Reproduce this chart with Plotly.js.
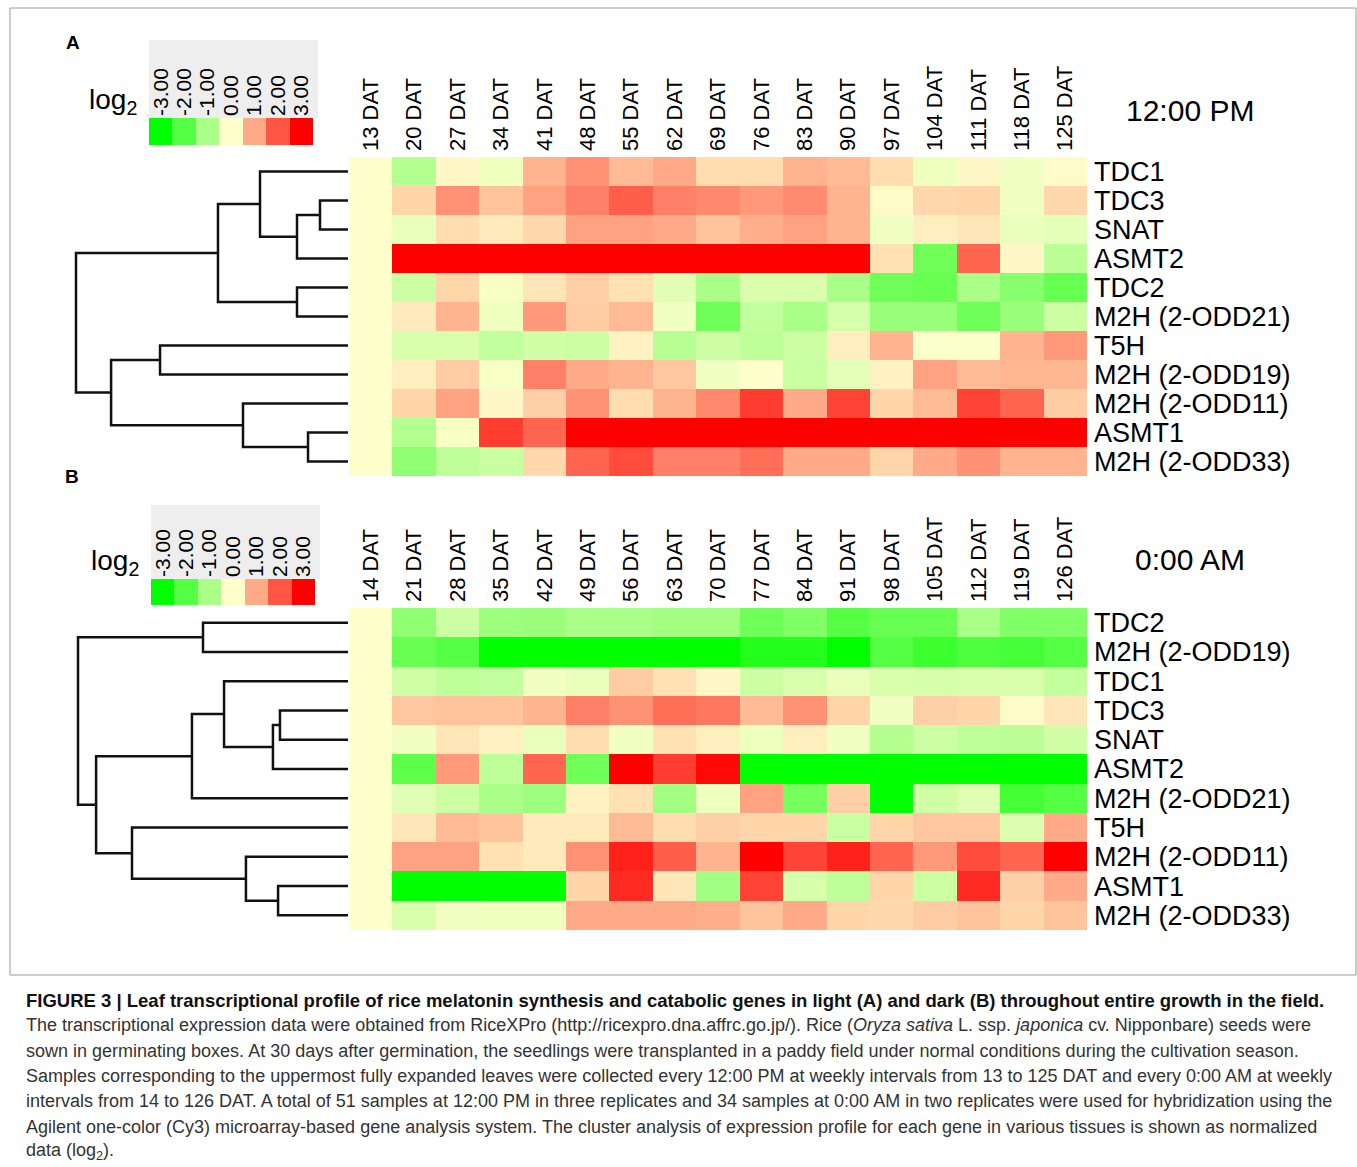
<!DOCTYPE html>
<html>
<head>
<meta charset="utf-8">
<script src="https://cdn.plot.ly/plotly-3.0.1.min.js"></script>
<style>html,body{margin:0;padding:0;background:#fff;}#chart{width:1357px;height:1167px;}</style>
</head>
<body>
<div id="chart"></div>
<script>
// ---------- data ----------
const colsA = ["13 DAT","20 DAT","27 DAT","34 DAT","41 DAT","48 DAT","55 DAT","62 DAT","69 DAT","76 DAT","83 DAT","90 DAT","97 DAT","104 DAT","111 DAT","118 DAT","125 DAT"];
const genesA = ["TDC1","TDC3","SNAT","ASMT2","TDC2","M2H (2-ODD21)","T5H","M2H (2-ODD19)","M2H (2-ODD11)","ASMT1","M2H (2-ODD33)"];
const zA = [
  [0,-0.9,0.1,-0.2,0.9,1.3,0.8,1.0,0.4,0.4,0.9,0.8,0.4,-0.2,0.1,-0.15,0.05],
  [0,0.5,1.3,0.7,1.1,1.5,1.9,1.5,1.4,1.2,1.35,0.9,0.05,0.45,0.5,-0.15,0.45],
  [0,-0.25,0.4,0.25,0.45,1.1,1.1,1.0,0.7,0.95,1.1,0.9,-0.15,0.2,0.3,-0.25,-0.3],
  [0,3,3,3,3,3,3,3,3,3,3,3,0.35,-1.7,1.8,0.1,-0.8],
  [0,-0.6,0.5,-0.1,0.3,0.55,0.35,-0.35,-1.0,-0.45,-0.45,-1.0,-1.7,-1.8,-1.0,-1.4,-1.8],
  [0,0.25,0.9,-0.2,1.2,0.6,0.8,-0.15,-1.7,-0.7,-1.0,-0.5,-1.2,-1.2,-1.7,-1.2,-0.6],
  [0,-0.45,-0.45,-0.7,-0.55,-0.6,0.15,-0.85,-0.6,-0.75,-0.6,0.2,0.9,-0.05,-0.05,0.9,1.2],
  [0,0.2,0.6,-0.1,1.5,1.0,0.9,0.65,-0.15,0.0,-0.65,-0.3,0.15,1.1,0.8,0.85,0.85],
  [0,0.5,1.1,0.1,0.55,1.3,0.4,0.9,1.4,2.3,1.0,2.2,0.5,0.8,2.2,1.8,0.6],
  [0,-0.9,-0.1,2.3,1.8,3,3,3,3,3,3,3,3,3,3,3,3],
  [0,-1.3,-0.75,-0.65,0.45,1.8,2.1,1.5,1.5,1.7,1.0,1.0,0.5,1.0,1.3,0.9,0.9]
];
// dendrogram A: merges of leaves (0..10) / earlier nodes (11..), with merge height
const dendA_left   = [1, 11, 0, 4, 13, 6, 9, 8, 16, 15];
const dendA_right  = [2, 3, 12, 5, 14, 7, 10, 17, 18, 19];
const dendA_height = [0.103, 0.1875, 0.3235, 0.1875, 0.478, 0.691, 0.147, 0.386, 0.871, 1.0];

const colsB = ["14 DAT","21 DAT","28 DAT","35 DAT","42 DAT","49 DAT","56 DAT","63 DAT","70 DAT","77 DAT","84 DAT","91 DAT","98 DAT","105 DAT","112 DAT","119 DAT","126 DAT"];
const genesB = ["TDC2","M2H (2-ODD19)","TDC1","TDC3","SNAT","ASMT2","M2H (2-ODD21)","T5H","M2H (2-ODD11)","ASMT1","M2H (2-ODD33)"];
const zB = [
  [0,-1.3,-0.6,-1.15,-1.2,-1.0,-1.0,-1.1,-1.1,-1.7,-1.5,-2.0,-1.8,-1.8,-1.0,-1.5,-1.5],
  [0,-1.8,-2.0,-3,-3,-3,-3,-3,-3,-2.6,-2.6,-3,-2.0,-2.3,-2.1,-2.2,-2.0],
  [0,-0.55,-0.75,-0.7,-0.15,-0.25,0.6,0.35,0.1,-0.6,-0.45,-0.25,-0.45,-0.5,-0.45,-0.45,-0.7],
  [0,0.65,0.7,0.7,0.9,1.5,1.3,1.7,1.6,0.8,1.3,0.5,-0.15,0.55,0.5,0.05,0.3],
  [0,-0.15,0.3,0.15,-0.25,0.4,-0.15,0.35,0.2,-0.2,0.2,-0.15,-0.9,-0.6,-0.75,-0.8,-0.55],
  [0,-1.9,1.2,-0.75,1.8,-1.7,3,2.3,2.9,-3,-3,-3,-3,-3,-3,-3,-3],
  [0,-0.35,-0.6,-1.0,-1.15,0.15,0.35,-1.1,-0.2,1.1,-1.6,0.55,-3,-0.55,-0.35,-2.2,-2.0],
  [0,0.3,0.8,0.7,0.25,0.25,0.8,0.4,0.55,0.5,0.5,-0.65,0.5,0.65,0.65,-0.4,1.0],
  [0,1.1,1.1,0.35,0.25,1.3,2.6,1.9,0.9,3,2.2,2.6,1.8,1.2,2.1,1.8,3],
  [0,-3,-3,-3,-3,0.5,2.5,0.3,-1.1,2.2,-0.5,-0.75,0.5,-0.6,2.5,0.55,1.0],
  [0,-0.45,-0.15,-0.2,-0.2,1.0,1.0,1.0,0.95,0.7,1.0,0.5,0.45,0.6,0.7,0.5,0.7]
];
const dendB_left   = [0, 3, 12, 2, 14, 9, 8, 7, 15, 11];
const dendB_right  = [1, 4, 5, 13, 6, 10, 16, 17, 18, 19];
const dendB_height = [0.537, 0.252, 0.278, 0.459, 0.578, 0.259, 0.378, 0.8, 0.933, 1.0];

const legendVals = [-3,-2,-1,0,1,2,3];
const legendLabels = ["-3.00","-2.00","-1.00","0.00","1.00","2.00","3.00"];

const caption = [
  "FIGURE 3 | Leaf transcriptional profile of rice melatonin synthesis and catabolic genes in light (A) and dark (B) throughout entire growth in the field.",
  "The transcriptional expression data were obtained from RiceXPro (http://ricexpro.dna.affrc.go.jp/). Rice (<i>Oryza sativa</i> L. ssp. <i>japonica</i> cv. Nipponbare) seeds were",
  "sown in germinating boxes. At 30 days after germination, the seedlings were transplanted in a paddy field under normal conditions during the cultivation season.",
  "Samples corresponding to the uppermost fully expanded leaves were collected every 12:00 PM at weekly intervals from 13 to 125 DAT and every 0:00 AM at weekly",
  "intervals from 14 to 126 DAT. A total of 51 samples at 12:00 PM in three replicates and 34 samples at 0:00 AM in two replicates were used for hybridization using the",
  "Agilent one-color (Cy3) microarray-based gene analysis system. The cluster analysis of expression profile for each gene in various tissues is shown as normalized",
  "data (log<sub>2</sub>)."
];

// ---------- helpers ----------
const W = 1357, H = 1167;
const fx = p => p / W;
const fy = p => 1 - p / H;
const FONT = "Liberation Sans, Arial, sans-serif";
const cscale = [[0, "#00ff00"], [0.5, "#ffffcc"], [1, "#ff0000"]];

function dendroPath(left, right, height, nLeaves) {
  const pos = [], hgt = [];
  for (let i = 0; i < nLeaves; i++) { pos[i] = i; hgt[i] = 0; }
  const xs = [], ys = [];
  for (let k = 0; k < left.length; k++) {
    const a = left[k], b = right[k], h = height[k];
    xs.push(hgt[a], h, h, hgt[b], null);
    ys.push(pos[a], pos[a], pos[b], pos[b], null);
    pos[nLeaves + k] = (pos[a] + pos[b]) / 2;
    hgt[nLeaves + k] = h;
  }
  return { x: xs, y: ys };
}
const dA = dendroPath(dendA_left, dendA_right, dendA_height, genesA.length);
const dB = dendroPath(dendB_left, dendB_right, dendB_height, genesB.length);

// ---------- traces ----------
const traces = [
  { type: "heatmap", x: colsA, y: genesA, z: zA, xaxis: "x", yaxis: "y",
    colorscale: cscale, zmin: -3, zmax: 3, showscale: false },
  { type: "scatter", mode: "lines", x: dA.x, y: dA.y, xaxis: "x2", yaxis: "y2",
    line: { color: "#111", width: 2.5 }, hoverinfo: "skip", showlegend: false },
  { type: "heatmap", x: legendLabels, y: ["a"], z: [legendVals], xaxis: "x3", yaxis: "y3",
    colorscale: cscale, zmin: -3, zmax: 3, showscale: false },
  { type: "heatmap", x: colsB, y: genesB, z: zB, xaxis: "x4", yaxis: "y4",
    colorscale: cscale, zmin: -3, zmax: 3, showscale: false },
  { type: "scatter", mode: "lines", x: dB.x, y: dB.y, xaxis: "x5", yaxis: "y5",
    line: { color: "#111", width: 2.5 }, hoverinfo: "skip", showlegend: false },
  { type: "heatmap", x: legendLabels, y: ["a"], z: [legendVals], xaxis: "x6", yaxis: "y6",
    colorscale: cscale, zmin: -3, zmax: 3, showscale: false }
];

const hx = [fx(349), fx(1087)];
const colAxis = () => ({
  domain: hx, side: "top", type: "category", tickangle: -90, showgrid: false, zeroline: false,
  showline: false, ticks: "", ticklabelstandoff: 5, tickmode: "linear", tick0: 0, dtick: 1,
  tickfont: { family: FONT, size: 22, color: "#000" }, fixedrange: true
});
const rowAxis = (y0, y1, n) => ({
  domain: [fy(y1), fy(y0)], side: "right", type: "category", range: [n - 0.5, -0.5],
  showgrid: false, zeroline: false, showline: false, ticks: "", ticklabelstandoff: 6,
  tickmode: "linear", tick0: 0, dtick: 1,
  tickfont: { family: FONT, size: 27, color: "#000" }, fixedrange: true
});
const legAxis = (x0, x1, anchor) => ({
  domain: [fx(x0), fx(x1)], side: "top", type: "category", tickangle: -90, anchor: anchor,
  showgrid: false, zeroline: false, showline: false, ticks: "", ticklabelstandoff: 1,
  tickmode: "linear", tick0: 0, dtick: 1,
  tickfont: { family: FONT, size: 21, color: "#000" }, fixedrange: true
});
const hidden = (extra) => Object.assign({ showgrid: false, zeroline: false, showline: false,
  showticklabels: false, ticks: "", fixedrange: true }, extra);

const layout = {
  width: W, height: H, autosize: false,
  margin: { l: 0, r: 0, t: 0, b: 0 },
  paper_bgcolor: "#ffffff", plot_bgcolor: "rgba(0,0,0,0)",
  showlegend: false,
  font: { family: FONT, color: "#000" },
  xaxis: colAxis(),
  yaxis: rowAxis(157, 476, genesA.length),
  xaxis2: hidden({ domain: [fx(70), fx(348)], range: [278 / 272, 0] }),
  yaxis2: hidden({ domain: [fy(476), fy(157)], range: [genesA.length - 0.5, -0.5] }),
  xaxis3: legAxis(149, 313, "y3"),
  yaxis3: hidden({ domain: [fy(145), fy(118)], anchor: "x3" }),
  xaxis4: Object.assign(colAxis(), { anchor: "y4" }),
  yaxis4: Object.assign(rowAxis(608, 930, genesB.length), { anchor: "x4" }),
  xaxis5: hidden({ domain: [fx(70), fx(348)], range: [278 / 270, 0], anchor: "y5" }),
  yaxis5: hidden({ domain: [fy(930), fy(608)], range: [genesB.length - 0.5, -0.5], anchor: "x5" }),
  xaxis6: legAxis(151, 315, "y6"),
  yaxis6: hidden({ domain: [fy(605), fy(579)], anchor: "x6" }),
  shapes: [
    { type: "rect", xref: "paper", yref: "paper", x0: fx(10), x1: fx(1356), y0: fy(975), y1: fy(8),
      line: { color: "#9a9a9a", width: 1 }, fillcolor: "rgba(0,0,0,0)", layer: "below" },
    { type: "rect", xref: "paper", yref: "paper", x0: fx(149), x1: fx(318), y0: fy(118), y1: fy(40),
      line: { width: 0 }, fillcolor: "#eeeeee", layer: "below" },
    { type: "rect", xref: "paper", yref: "paper", x0: fx(151), x1: fx(320), y0: fy(579), y1: fy(505),
      line: { width: 0 }, fillcolor: "#eeeeee", layer: "below" }
  ],
  annotations: []
};

const ann = (x, y, text, size, opts) => Object.assign({
  xref: "paper", yref: "paper", x: fx(x), y: fy(y), text: text, showarrow: false,
  xanchor: "center", yanchor: "middle", font: { family: FONT, size: size, color: "#000" }
}, opts || {});

layout.annotations.push(ann(64, 42, "<b>A</b>", 19, { xanchor: "left" }));
layout.annotations.push(ann(63, 477, "<b>B</b>", 19, { xanchor: "left" }));
layout.annotations.push(ann(113, 101, "log<sub>2</sub>", 28));
layout.annotations.push(ann(115, 562, "log<sub>2</sub>", 28));
layout.annotations.push(ann(1190, 110, "12:00 PM", 30));
layout.annotations.push(ann(1190, 560, "0:00 AM", 30));

caption.forEach((line, i) => {
  const bold = i === 0;
  const size = bold ? 18.5 : 18;
  layout.annotations.push(ann(24, 1000 + i * 25.3, bold ? "<b>" + line + "</b>" : line, size, {
    xanchor: "left", align: "left",
    font: { family: FONT, size: size, color: bold ? "#111" : "#333" }
  }));
});

Plotly.newPlot("chart", traces, layout, { staticPlot: true, displayModeBar: false });
</script>
</body>
</html>
